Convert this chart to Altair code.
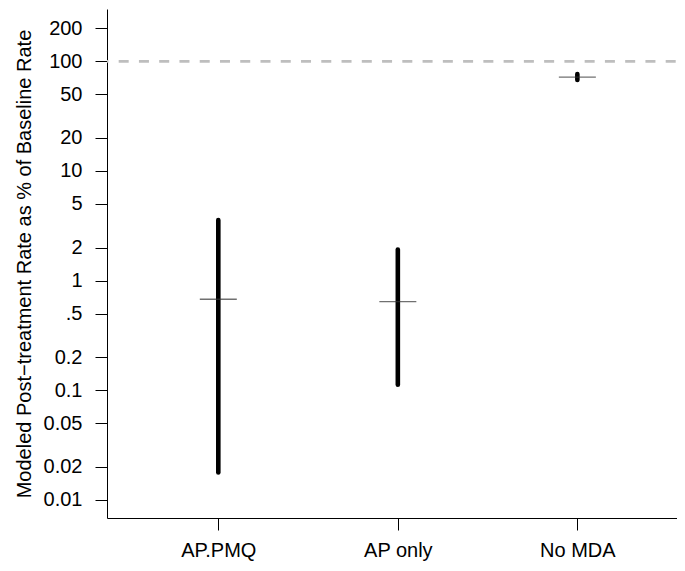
import altair as alt
import pandas as pd

categories = ["AP.PMQ", "AP only", "No MDA"]
positions = [1, 2, 3]
estimate = [0.675, 0.643, 71.8]
lower = [0.0177, 0.112, 67.8]
upper = [3.57, 1.92, 76.7]
y_ticks = [0.01, 0.02, 0.05, 0.1, 0.2, 0.5, 1, 2, 5, 10, 20, 50, 100, 200]
y_tick_labels = ["0.01", "0.02", "0.05", "0.1", "0.2", ".5", "1", "2", "5",
                 "10", "20", "50", "100", "200"]
reference = [100]

df = pd.DataFrame({"pos": positions, "category": categories,
                   "estimate": estimate, "lower": lower, "upper": upper})
ref_df = pd.DataFrame({"ref": reference})

FONT = "Liberation Sans"
FS = 20

y_label_expr = "[" + ",".join("'%s'" % s for s in y_tick_labels) + "][indexof([" + \
    ",".join(str(v) for v in y_ticks) + "], datum.value)]"
x_label_expr = "[" + ",".join("'%s'" % s for s in categories) + "][datum.value - 1]"

yscale = alt.Scale(type="log", domain=[0.00681, 300.8], nice=False, zero=False)
xscale = alt.Scale(domain=[0.38, 3.555], nice=False, zero=False)

yaxis = alt.Axis(values=y_ticks, labelExpr=y_label_expr,
                 title="Modeled Post\u2212treatment Rate as % of Baseline Rate",
                 tickSize=12, labelPadding=13, labelFontSize=FS, labelFont=FONT,
                 labelColor="black", tickColor="black", domainColor="black",
                 grid=False, titleFontSize=FS, titleFont=FONT, titleFontWeight="normal",
                 titleColor="black", titleX=-83, titleY=254.5, titleAngle=270,
                 titleBaseline="middle", titleAlign="center", labelAlign="right",
                 labelBaseline="middle", labelFlush=False, labelOverlap=False,
                 labelBound=False)
xaxis = alt.Axis(values=positions, labelExpr=x_label_expr, title=None,
                 tickSize=12, labelPadding=26, labelFontSize=FS, labelFont=FONT,
                 labelColor="black", tickColor="black", domainColor="black",
                 grid=False, labelBaseline="alphabetic", labelAlign="center",
                 labelFlush=False, labelOverlap=False, labelBound=False)

ref = alt.Chart(ref_df).mark_rule(color="#bebebe", strokeWidth=2.6,
                                  strokeDash=[10, 10.26], strokeDashOffset=-1.3).encode(
    y=alt.Y("ref:Q", scale=yscale, axis=yaxis)
)

ci = alt.Chart(df).mark_rule(color="black", strokeWidth=4.6, strokeCap="round").encode(
    x=alt.X("pos:Q", scale=xscale, axis=xaxis),
    y=alt.Y("lower:Q", scale=yscale, axis=yaxis),
    y2="upper:Q",
)

est = alt.Chart(df).mark_tick(orient="horizontal", size=37, thickness=1.3,
                              color="#333333").encode(
    x=alt.X("pos:Q", scale=xscale, axis=xaxis),
    y=alt.Y("estimate:Q", scale=yscale, axis=yaxis),
)

chart = alt.layer(ref, ci, est).properties(
    width=570, height=509,
    padding={"left": 99, "top": 1, "right": 0, "bottom": 45},
    autosize=alt.AutoSizeParams(type="none"),
    background="white",
).configure_view(stroke=None)

chart.save("out.html", embed_options={"renderer": "svg", "actions": False})
